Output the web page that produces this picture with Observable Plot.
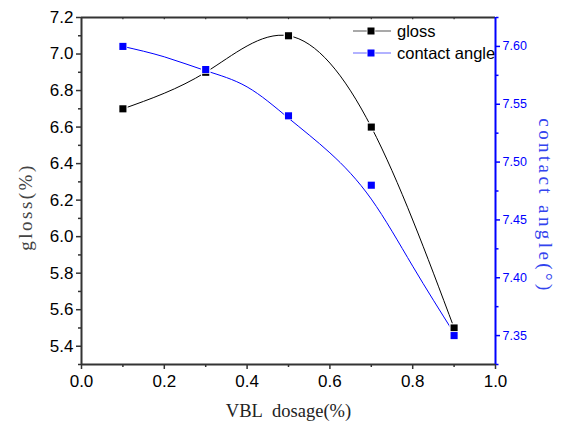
<!DOCTYPE html>
<html>
<head>
<meta charset="utf-8">
<script src="https://cdn.jsdelivr.net/npm/d3@7"></script>
<script src="https://cdn.jsdelivr.net/npm/@observablehq/plot@0.6"></script>
<style>
  html, body { margin: 0; padding: 0; background: #fff; }
  #wrap { position: relative; width: 561px; height: 430px; }
  #legend { position: absolute; left: 353px; top: 20px; font-family: "Liberation Sans", Arial, sans-serif; font-size: 16.5px; color: #000; }
  #legend .row { display: flex; align-items: center; height: 22px; }
  #legend svg { margin-right: 6px; }
</style>
</head>
<body>
<div id="wrap"><div id="legend"></div></div>
<script>
// ---- data ----
const dosage = [0.1, 0.3, 0.5, 0.7, 0.9];
const gloss = [6.7, 6.9, 7.1, 6.6, 5.5];
const contactAngle = [7.60, 7.58, 7.54, 7.48, 7.35];
// smooth fitted curve for contact angle
const fitDosage = [0.1, 0.2, 0.3, 0.4, 0.5, 0.6, 0.7, 0.8, 0.9];
const fitContact = [7.600, 7.591, 7.579, 7.565, 7.538, 7.508, 7.468, 7.410, 7.352];
const xTicks = [0.0, 0.2, 0.4, 0.6, 0.8, 1.0];
const xMinor = [0.1, 0.3, 0.5, 0.7, 0.9];
const topTicks = [0.1, 0.2, 0.3, 0.4, 0.5, 0.6, 0.7, 0.8, 0.9];
const leftTicks = [5.4, 5.6, 5.8, 6.0, 6.2, 6.4, 6.6, 6.8, 7.0, 7.2];
const leftMinor = [5.3, 5.5, 5.7, 5.9, 6.1, 6.3, 6.5, 6.7, 6.9, 7.1];
const rightTicks = [7.35, 7.40, 7.45, 7.50, 7.55, 7.60];
const rightMinor = [7.325, 7.375, 7.425, 7.475, 7.525, 7.575, 7.625];
const glossDomain = [5.3, 7.2];
const contactDomain = [7.325, 7.625];
const yTitle = "gloss(%)";
const y2Title = "contact angle(°)";
const xTitle = "VBL\u00a0 dosage(%)";

// map contact angle onto the gloss scale (dual axis)
const c2g = d3.scaleLinear(contactDomain, glossDomain);

const glossData = dosage.map((x, i) => ({x, y: gloss[i]}));
const contactData = dosage.map((x, i) => ({x, y: c2g(contactAngle[i])}));
const fitData = fitDosage.map((x, i) => ({x, y: c2g(fitContact[i])}));

const BLUE = "#0000ff";
const FRAME = "#333";
const serif = "'Liberation Serif', 'DejaVu Serif', serif";

const chart = Plot.plot({
  width: 561,
  height: 430,
  marginLeft: 81,
  marginRight: 66,
  marginTop: 17,
  marginBottom: 66,
  style: {fontFamily: "'Liberation Sans', Arial, sans-serif", background: "#fff"},
  x: {domain: [0, 1]},
  y: {domain: glossDomain},
  marks: [
    // left axis
    Plot.axisY(leftTicks, {anchor: "left", tickSize: 5, tickPadding: 3, fontSize: 17, stroke: FRAME, strokeWidth: 1.5, fill: "#000", label: null, tickFormat: d => d.toFixed(1)}),
    Plot.axisY(leftMinor, {anchor: "left", tickSize: 3, stroke: FRAME, strokeWidth: 1.5, tickFormat: () => "", label: null}),
    // bottom axis
    Plot.axisX(xTicks, {anchor: "bottom", tickSize: 5, tickPadding: 5, fontSize: 17, stroke: FRAME, strokeWidth: 1.5, fill: "#000", label: null, tickFormat: d => d.toFixed(1)}),
    Plot.axisX(xMinor, {anchor: "bottom", tickSize: 3, stroke: FRAME, strokeWidth: 1.5, tickFormat: () => "", label: null}),
    // right axis (contact angle)
    Plot.axisY(rightTicks.map(c2g), {anchor: "right", tickSize: 4, tickPadding: 3, fontSize: 12.5, stroke: BLUE, fill: BLUE, strokeWidth: 1.5, label: null, tickFormat: d => c2g.invert(d).toFixed(2)}),
    Plot.axisY(rightMinor.map(c2g), {anchor: "right", tickSize: 2.5, stroke: BLUE, strokeWidth: 1.5, tickFormat: () => "", label: null}),
    // top minor ticks (inward)
    Plot.ruleX(topTicks, {x: d => d, y1: 7.2, y2: 7.188, stroke: FRAME, strokeWidth: 1.2}),
    // frame
    Plot.ruleY([glossDomain[0]], {stroke: FRAME, strokeWidth: 2}),
    Plot.ruleY([glossDomain[1]], {stroke: FRAME, strokeWidth: 2}),
    Plot.ruleX([0], {stroke: FRAME, strokeWidth: 2}),
    Plot.ruleX([1], {stroke: BLUE, strokeWidth: 2}),
    // curves
    Plot.line(fitData, {x: "x", y: "y", stroke: BLUE, strokeWidth: 1, curve: "natural"}),
    Plot.line(glossData, {x: "x", y: "y", stroke: "#000", strokeWidth: 1, curve: "natural"}),
    // markers
    Plot.dot(glossData, {x: "x", y: "y", symbol: "square", r: 4, fill: "#000", stroke: "#fff", strokeWidth: 2.5, paintOrder: "stroke"}),
    Plot.dot(contactData, {x: "x", y: "y", symbol: "square", r: 4, fill: BLUE, stroke: "#fff", strokeWidth: 1.5, paintOrder: "stroke"}),
    // axis titles
    Plot.text([yTitle], {frameAnchor: "left", dx: -56, dy: 16, rotate: -90, textAnchor: "middle", fontFamily: serif, fontSize: 19, fill: "#444"}),
    Plot.text([y2Title], {frameAnchor: "right", dx: 50, dy: 15, rotate: 90, textAnchor: "middle", fontFamily: serif, fontSize: 19, fill: "#3344ee"}),
    Plot.text([xTitle], {frameAnchor: "bottom", dy: 52, textAnchor: "middle", fontFamily: serif, fontSize: 18.5, fill: "#222"})
  ]
});
// wide letter spacing of the axis titles
chart.querySelectorAll("text").forEach(t => {
  if (t.textContent === yTitle) t.style.letterSpacing = "2.5px";
  if (t.textContent === y2Title) t.style.letterSpacing = "3.4px";
});
chart.style.position = "absolute";
chart.style.left = "0";
chart.style.top = "0";
const wrap = document.getElementById("wrap");
wrap.insertBefore(chart, wrap.firstChild);

// legend
const legendItems = [
  {label: "gloss", line: "#555", fill: "#000"},
  {label: "contact angle", line: "#6666ff", fill: BLUE}
];
const legend = document.getElementById("legend");
for (const it of legendItems) {
  const row = document.createElement("div");
  row.className = "row";
  row.innerHTML = `<svg width="38" height="10"><line x1="0" y1="5" x2="38" y2="5" stroke="${it.line}" stroke-width="1.2"/><rect x="14.5" y="1.5" width="7" height="7" fill="${it.fill}" stroke="#fff" stroke-width="1.5" paint-order="stroke"/></svg><span>${it.label}</span>`;
  legend.appendChild(row);
}
</script>
</body>
</html>
